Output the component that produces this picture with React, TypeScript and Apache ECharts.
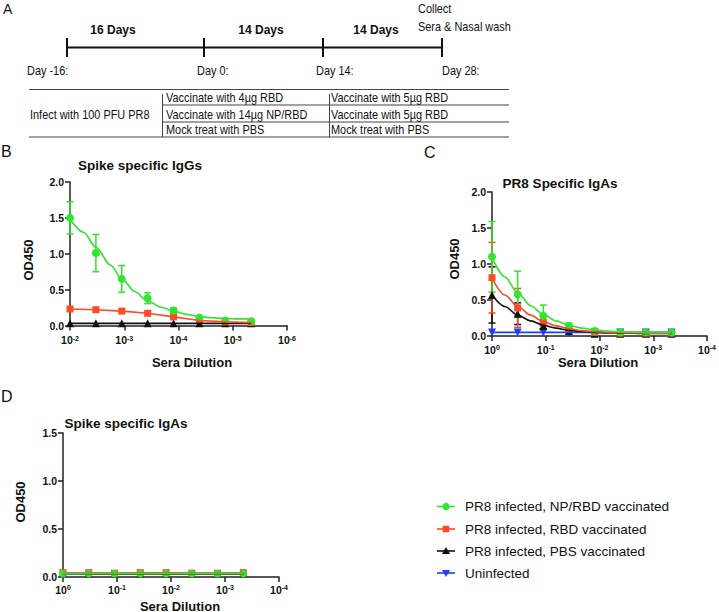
import React, { useEffect, useRef } from "react";
import * as echarts from "echarts";

const FONT = '"Liberation Sans", Arial, Helvetica, sans-serif';
const GREEN = "#2ee62e";
const RED = "#ff4a24";
const BLACK = "#111111";
const BLUE = "#1f3cff";
const AXIS = "#222222";
const NARROW_SCALE = 0.84;

const NAME_GREEN = "PR8 infected, NP/RBD vaccinated";
const NAME_RED = "PR8 infected, RBD vaccinated";
const NAME_BLACK = "PR8 infected, PBS vaccinated";
const NAME_BLUE = "Uninfected";

// ---------- Panel B: Spike specific IgGs (serum dilution factors) ----------
const dilutionB = [100, 300, 900, 2700, 8100, 24300, 72900, 218700];
const bGreen = [1.5, 1.01, 0.65, 0.38, 0.21, 0.11, 0.07, 0.06];
const bGreenErr = [0.225, 0.26, 0.185, 0.075, 0.035, 0.015, 0.01, 0.01];
const bRed = [0.23, 0.22, 0.2, 0.17, 0.12, 0.07, 0.05, 0.04];
const bBlack = [0.03, 0.03, 0.03, 0.03, 0.03, 0.03, 0.03, 0.03];
// fitted curve (x = dilution exponent)
const bFitX = [2, 2.25, 2.477, 2.75, 2.954, 3.2, 3.431, 3.7, 3.908, 4.15, 4.386, 4.6, 4.863, 5.1, 5.34];
const bGreenFit = [1.48, 1.3, 1.09, 0.84, 0.65, 0.47, 0.34, 0.25, 0.2, 0.155, 0.125, 0.108, 0.098, 0.092, 0.09];

// ---------- Panel C: PR8 Specific IgAs ----------
const dilutionC = [1, 3, 9, 27, 81, 243, 729, 2187];
const cGreen = [1.1, 0.58, 0.28, 0.14, 0.07, 0.05, 0.05, 0.05];
const cGreenErr = [0.49, 0.32, 0.15, 0.04, 0.01, 0.01, 0.01, 0.01];
const cRed = [0.81, 0.39, 0.19, 0.1, 0.05, 0.04, 0.04, 0.04];
const cRedErr = [0.49, 0.27, 0.1, 0.03, 0.01, 0.01, 0.01, 0.01];
const cBlack = [0.57, 0.31, 0.14, 0.07, 0.03, 0.03, 0.03, 0.03];
const cBlackErr = [0.39, 0.15, 0.04, 0.02, 0.01, 0.01, 0.01, 0.01];
const cBlue = [0.05, 0.05, 0.05, 0.05, 0.05, 0.05, 0.05, 0.05];
// fitted curves (x = dilution exponent)
const cFitX = [0, 0.24, 0.477, 0.72, 0.954, 1.19, 1.431, 1.67, 1.908, 2.15, 2.386, 2.6, 2.863, 3.1, 3.34];
const cGreenFit = [1.09, 0.82, 0.6, 0.42, 0.3, 0.21, 0.15, 0.11, 0.083, 0.068, 0.059, 0.054, 0.051, 0.05, 0.05];
const cRedFit = [0.8, 0.57, 0.41, 0.29, 0.2, 0.14, 0.1, 0.075, 0.06, 0.05, 0.045, 0.042, 0.04, 0.04, 0.04];
const cBlackFit = [0.57, 0.41, 0.29, 0.21, 0.15, 0.11, 0.08, 0.062, 0.05, 0.044, 0.04, 0.038, 0.036, 0.035, 0.035];

// ---------- Panel D: Spike specific IgAs ----------
const dilutionD = [1, 3, 9, 27, 81, 243, 729, 2187];
const dGreen = [0.035, 0.035, 0.035, 0.035, 0.035, 0.035, 0.035, 0.035];
const dRed = [0.045, 0.045, 0.04, 0.045, 0.045, 0.04, 0.04, 0.045];
const dBlack = [0.045, 0.035, 0.035, 0.035, 0.035, 0.035, 0.035, 0.035];
const dBlue = [0.03, 0.03, 0.03, 0.03, 0.03, 0.03, 0.03, 0.03];

// ---------- Panel A texts ----------
const timelineDays = ["Day -16:", "Day 0:", "Day 14:", "Day 28:"];
const intervalLabels = ["16 Days", "14 Days", "14 Days"];
const vaccineCol1 = ["Vaccinate with 4µg RBD", "Vaccinate with 14µg NP/RBD", "Mock treat with PBS"];
const vaccineCol2 = ["Vaccinate with 5µg RBD", "Vaccinate with 5µg RBD", "Mock treat with PBS"];

const logX = (d: number[]) => d.map((v) => Math.log10(v));
const pairs = (xs: number[], ys: number[]) => xs.map((x, i) => [x, ys[i]]);
const triples = (xs: number[], ys: number[], es: number[]) => xs.map((x, i) => [x, ys[i], es[i]]);

function fitLine(name: string, xs: number[], ys: number[], color: string, g: number, smooth = true) {
  return {
    type: "line",
    name,
    xAxisIndex: g,
    yAxisIndex: g,
    data: pairs(xs, ys),
    smooth: smooth ? 0.3 : false,
    smoothMonotone: "x",
    showSymbol: false,
    symbol: "none",
    lineStyle: { color, width: 1.6 },
    silent: true,
  };
}

function markers(name: string, xs: number[], ys: number[], symbol: string, size: number, color: string, g: number) {
  return {
    type: "scatter",
    name,
    xAxisIndex: g,
    yAxisIndex: g,
    data: pairs(xs, ys),
    symbol,
    symbolSize: size,
    itemStyle: { color, opacity: 1 },
  };
}

function errBars(xs: number[], ys: number[], es: number[], color: string, g: number) {
  return {
    type: "custom",
    xAxisIndex: g,
    yAxisIndex: g,
    data: triples(xs, ys, es),
    encode: { x: 0, y: 1 },
    silent: true,
    renderItem: (params: any, api: any) => {
      const x = api.value(0);
      const y = api.value(1);
      const e = api.value(2);
      if (!e || e < 0.012) return { type: "group", children: [] };
      const top = api.coord([x, y + e]);
      const bot = api.coord([x, Math.max(0, y - e)]);
      const hw = 3.5;
      const style = { stroke: color, lineWidth: 1.5 };
      return {
        type: "group",
        children: [
          { type: "line", shape: { x1: top[0], y1: top[1], x2: bot[0], y2: bot[1] }, style },
          { type: "line", shape: { x1: top[0] - hw, y1: top[1], x2: top[0] + hw, y2: top[1] }, style },
          { type: "line", shape: { x1: bot[0] - hw, y1: bot[1], x2: bot[0] + hw, y2: bot[1] }, style },
        ],
      };
    },
  };
}

const richLbl = {
  b: { fontSize: 10.5, fontWeight: "bold", fontFamily: FONT, color: "#111" },
  s: { fontSize: 7, fontWeight: "bold", fontFamily: FONT, color: "#111", verticalAlign: "top", lineHeight: 7 },
};

function xAxis(g: number, min: number, max: number, margin: number) {
  return {
    type: "value",
    gridIndex: g,
    min,
    max,
    interval: 1,
    axisLine: { show: true, onZero: false, lineStyle: { color: AXIS, width: 1.5 } },
    axisTick: { show: true, length: 5, lineStyle: { color: AXIS, width: 1.5 } },
    splitLine: { show: false },
    axisLabel: {
      margin,
      formatter: (v: number) => (v === 0 ? "{b|10}{s|0}" : `{b|10}{s|-${v}}`),
      rich: richLbl,
    },
  };
}

function yAxis(g: number, max: number) {
  return {
    type: "value",
    gridIndex: g,
    min: 0,
    max,
    interval: 0.5,
    axisLine: { show: true, onZero: false, lineStyle: { color: AXIS, width: 1.5 } },
    axisTick: { show: true, length: 5, lineStyle: { color: AXIS, width: 1.5 } },
    splitLine: { show: false },
    axisLabel: {
      margin: 6,
      formatter: (v: number) => v.toFixed(1),
      fontSize: 10.5,
      fontWeight: "bold",
      fontFamily: FONT,
      color: "#111",
    },
  };
}

function txt(text: string, x: number, y: number, opts: any = {}) {
  return {
    type: "text",
    x,
    y,
    rotation: opts.rotation || 0,
    scaleX: opts.scaleX || 1,
    silent: true,
    style: {
      text,
      fontSize: opts.size || 13,
      fontWeight: opts.bold ? "bold" : "normal",
      fontFamily: FONT,
      fill: opts.fill || "#111",
      align: opts.align || "left",
      verticalAlign: "middle",
    },
  };
}

const narrow = (text: string, x: number, y: number) => txt(text, x, y, { size: 13, scaleX: NARROW_SCALE });

function hline(x1: number, x2: number, y: number, w = 1, color = "#333") {
  return { type: "line", silent: true, shape: { x1, y1: y, x2, y2: y }, style: { stroke: color, lineWidth: w } };
}
function vline(x: number, y1: number, y2: number, w = 1, color = "#333") {
  return { type: "line", silent: true, shape: { x1: x, y1, x2: x, y2 }, style: { stroke: color, lineWidth: w } };
}

function legendItem(label: string, y: number, color: string, kind: string) {
  const cx = 446;
  let sym: any;
  if (kind === "circle") sym = { type: "circle", shape: { cx, cy: y, r: 3.6 }, style: { fill: color } };
  else if (kind === "rect") sym = { type: "rect", shape: { x: cx - 3.3, y: y - 3.3, width: 6.6, height: 6.6 }, style: { fill: color } };
  else if (kind === "tri")
    sym = { type: "polygon", shape: { points: [[cx, y - 4], [cx - 4, y + 3], [cx + 4, y + 3]] }, style: { fill: color } };
  else sym = { type: "polygon", shape: { points: [[cx, y + 4], [cx - 4, y - 3], [cx + 4, y - 3]] }, style: { fill: color } };
  return [hline(437, 455, y, 1.6, color), sym, txt(label, 465, y, { size: 13.5 })];
}

export default function App() {
  const ref = useRef<HTMLDivElement>(null);

  useEffect(() => {
    if (!ref.current) return;
    const chart = echarts.init(ref.current, undefined, { renderer: "svg" });

    const xB = logX(dilutionB);
    const xC = logX(dilutionC);
    const xD = logX(dilutionD);

    const series: any[] = [
      // Panel B
      fitLine(NAME_BLACK, xB, bBlack, BLACK, 0, false),
      markers(NAME_BLACK, xB, bBlack, "triangle", 8, BLACK, 0),
      fitLine(NAME_RED, xB, bRed, RED, 0, false),
      markers(NAME_RED, xB, bRed, "rect", 7, RED, 0),
      fitLine(NAME_GREEN, bFitX, bGreenFit, GREEN, 0),
      errBars(xB, bGreen, bGreenErr, GREEN, 0),
      markers(NAME_GREEN, xB, bGreen, "circle", 8, GREEN, 0),
      // Panel C
      fitLine(NAME_BLUE, xC, cBlue, BLUE, 1, false),
      markers(NAME_BLUE, xC, cBlue, "path://M0,0 L10,0 L5,9 Z", 8, BLUE, 1),
      fitLine(NAME_BLACK, cFitX, cBlackFit, BLACK, 1),
      errBars(xC, cBlack, cBlackErr, BLACK, 1),
      markers(NAME_BLACK, xC, cBlack, "triangle", 8, BLACK, 1),
      fitLine(NAME_RED, cFitX, cRedFit, RED, 1),
      errBars(xC, cRed, cRedErr, RED, 1),
      markers(NAME_RED, xC, cRed, "rect", 7, RED, 1),
      fitLine(NAME_GREEN, cFitX, cGreenFit, GREEN, 1),
      errBars(xC, cGreen, cGreenErr, GREEN, 1),
      markers(NAME_GREEN, xC, cGreen, "circle", 8, GREEN, 1),
      // Panel D
      fitLine(NAME_BLUE, xD, dBlue, BLUE, 2, false),
      fitLine(NAME_BLACK, xD, dBlack, BLACK, 2, false),
      markers(NAME_BLACK, xD, dBlack, "triangle", 7, BLACK, 2),
      fitLine(NAME_RED, xD, dRed, RED, 2, false),
      markers(NAME_RED, xD, dRed, "rect", 7, RED, 2),
      fitLine(NAME_GREEN, xD, dGreen, GREEN, 2, false),
      markers(NAME_GREEN, xD, dGreen, "circle", 7.5, GREEN, 2),
    ];

    const graphic: any[] = [
      // Panel A
      txt("A", 3, 9, { size: 14 }),
      hline(67, 442, 47.5, 2, "#111"),
      vline(67, 38, 57, 2, "#111"),
      vline(204, 38, 57, 2, "#111"),
      vline(323, 38, 57, 2, "#111"),
      vline(442, 38, 57, 2, "#111"),
      txt(intervalLabels[0], 113, 29.5, { bold: true, size: 12, align: "center" }),
      txt(intervalLabels[1], 261, 29.5, { bold: true, size: 12, align: "center" }),
      txt(intervalLabels[2], 376, 29.5, { bold: true, size: 12, align: "center" }),
      narrow("Collect", 418, 9),
      narrow("Sera & Nasal wash", 418, 27),
      narrow(timelineDays[0], 27, 71),
      narrow(timelineDays[1], 197, 71),
      narrow(timelineDays[2], 316, 71),
      narrow(timelineDays[3], 442, 71),
      hline(29, 509, 89.5, 1, "#444"),
      hline(29, 509, 137, 1, "#444"),
      hline(162, 509, 105, 1, "#444"),
      hline(162, 509, 122, 1, "#444"),
      vline(162.5, 94, 137, 1, "#444"),
      vline(329.5, 94, 137, 1, "#444"),
      narrow("Infect with 100 PFU PR8", 30, 115),
      narrow(vaccineCol1[0], 166, 98),
      narrow(vaccineCol1[1], 166, 114.5),
      narrow(vaccineCol1[2], 166, 130),
      narrow(vaccineCol2[0], 331, 98),
      narrow(vaccineCol2[1], 331, 114.5),
      narrow(vaccineCol2[2], 331, 130),
      // Panel letters
      txt("B", 1, 151, { size: 16 }),
      txt("C", 424, 152, { size: 16 }),
      txt("D", 1, 396, { size: 16 }),
      // Titles
      txt("Spike specific IgGs", 140, 165, { bold: true, size: 13.5, align: "center" }),
      txt("PR8 Specific IgAs", 560, 183, { bold: true, size: 13.5, align: "center" }),
      txt("Spike specific IgAs", 126, 423, { bold: true, size: 13.5, align: "center" }),
      // Axis names
      txt("OD450", 28, 260, { bold: true, size: 13, align: "center", rotation: Math.PI / 2 }),
      txt("OD450", 454, 259, { bold: true, size: 13, align: "center", rotation: Math.PI / 2 }),
      txt("OD450", 20, 502, { bold: true, size: 13, align: "center", rotation: Math.PI / 2 }),
      txt("Sera Dilution", 192, 362.5, { bold: true, size: 13, align: "center" }),
      txt("Sera Dilution", 598, 362.5, { bold: true, size: 13, align: "center" }),
      txt("Sera Dilution", 180, 606, { bold: true, size: 13, align: "center" }),
      // Legend
      ...legendItem(NAME_GREEN, 506.5, GREEN, "circle"),
      ...legendItem(NAME_RED, 529, RED, "rect"),
      ...legendItem(NAME_BLACK, 551, BLACK, "tri"),
      ...legendItem(NAME_BLUE, 573, BLUE, "tridown"),
    ];

    chart.setOption({
      animation: false,
      backgroundColor: "#ffffff",
      textStyle: { fontFamily: FONT },
      grid: [
        { left: 70, top: 182, width: 217, height: 143.5 },
        { left: 492, top: 192, width: 216, height: 144 },
        { left: 63, top: 433, width: 216, height: 144 },
      ],
      xAxis: [xAxis(0, 2, 6, 9), xAxis(1, 0, 4, 8), xAxis(2, 0, 4, 7)],
      yAxis: [yAxis(0, 2), yAxis(1, 2), yAxis(2, 1.5)],
      series,
      graphic,
    });

    return () => chart.dispose();
  }, []);

  return (
    <div
      ref={ref}
      style={{ position: "fixed", left: 0, top: 0, width: 719, height: 612, background: "#fff" }}
    />
  );
}
